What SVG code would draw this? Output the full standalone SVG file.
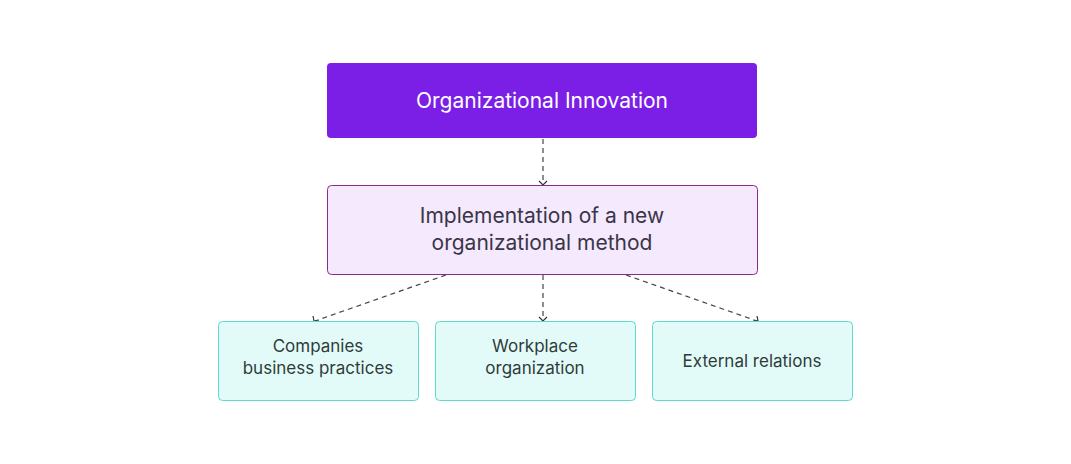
<svg xmlns="http://www.w3.org/2000/svg" width="1071" height="464" viewBox="0 0 1071 464">
<style>
.t{font-family:"Inter","Liberation Sans",sans-serif;text-anchor:middle}
.leaf{fill:#e3fbf8;stroke:#5ed9cc;stroke-width:1}
.c{stroke:#444;stroke-width:1.2;stroke-dasharray:5,4;fill:none}
</style>
<defs><marker id="a" markerWidth="8" markerHeight="8" refX="4" refY="6" orient="auto-start-reverse" markerUnits="userSpaceOnUse" viewBox="0 0 8 8"><path d="M1,2 L4,6 L7,2" fill="none" stroke="#333" stroke-width="1.2"/></marker></defs>
<rect width="1071" height="464" fill="#fff"/>
<g id="connectors">
<line class="c" x1="543" y1="139" x2="543" y2="185"/>
<path class="c" d="M446,275 L315,321"/>
<line class="c" x1="543" y1="275" x2="543" y2="321"/>
<path class="c" d="M626,275 L757,321"/>
<path d="M539,181 L543,185 L547,181" fill="none" stroke="#333" stroke-width="1.2"/>
<path d="M539,317 L543,321 L547,317" fill="none" stroke="#333" stroke-width="1.2"/>
<path d="M313,316 L314,321 L319,321" fill="none" stroke="#333" stroke-width="1.2"/>
<path d="M753,321 L758,321 L757,316" fill="none" stroke="#333" stroke-width="1.2"/>
</g>
<g id="n1"><rect x="327" y="63" width="430" height="75" rx="4" fill="#7b1fe6"/><text class="t" x="542" y="108" font-size="21" fill="#fff">Organizational Innovation</text></g>
<g id="n2"><rect x="327.5" y="185.5" width="430" height="89" rx="4" fill="#f4e9fd" stroke="#8a2b8c"/><text class="t" x="542" y="223" font-size="21" fill="#3a3548">Implementation of a new</text><text class="t" x="542" y="250" font-size="21" fill="#3a3548">organizational method</text></g>
<g id="n3"><rect class="leaf" x="218.5" y="321.5" width="200" height="79" rx="4"/><text class="t" x="318" y="352" font-size="17" fill="#2f3b3a">Companies</text><text class="t" x="318" y="374" font-size="17" fill="#2f3b3a">business practices</text></g>
<g id="n4"><rect class="leaf" x="435.5" y="321.5" width="200" height="79" rx="4"/><text class="t" x="535" y="352" font-size="17" fill="#2f3b3a">Workplace</text><text class="t" x="535" y="374" font-size="17" fill="#2f3b3a">organization</text></g>
<g id="n5"><rect class="leaf" x="652.5" y="321.5" width="200" height="79" rx="4"/><text class="t" x="752" y="367" font-size="17" fill="#2f3b3a">External relations</text></g>
</svg>
